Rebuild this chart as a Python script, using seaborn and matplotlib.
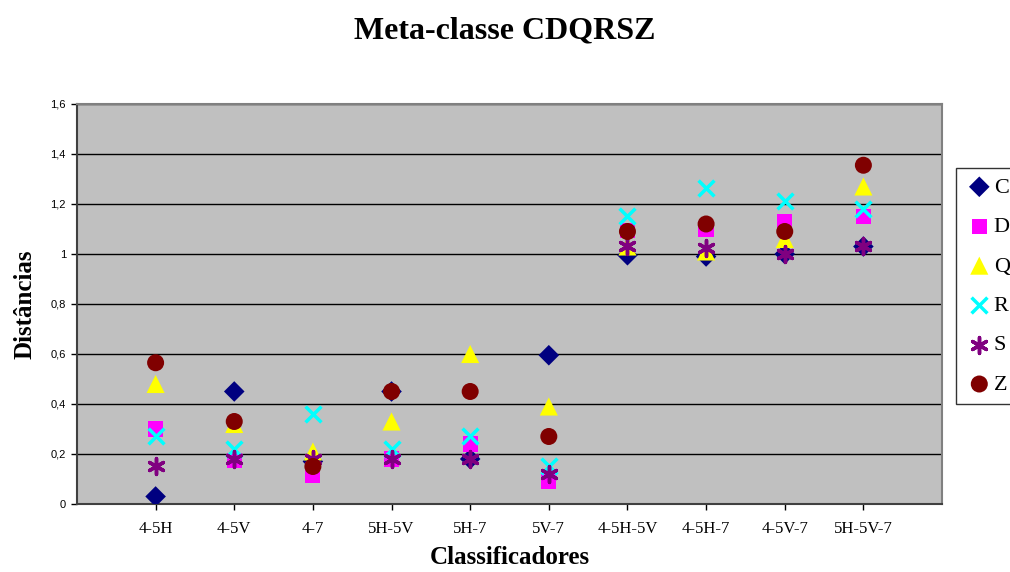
import pandas as pd
import numpy as np
import seaborn as sns
import matplotlib.pyplot as plt

# Classificadores (eixo x)
CLASSIFICADORES = ["4-5H", "4-5V", "4-7", "5H-5V", "5H-7", "5V-7",
                   "4-5H-5V", "4-5H-7", "4-5V-7", "5H-5V-7"]

# Distancias por meta-classe
C = [0.03, 0.45, 0.17, 0.45, 0.18, 0.595, 0.995, 0.99, 1.00, 1.03]
D = [0.30, 0.175, 0.115, 0.18, 0.24, 0.09, 1.095, 1.10, 1.13, 1.15]
Q = [0.48, 0.32, 0.21, 0.33, 0.60, 0.39, 1.03, 1.01, 1.06, 1.27]
R = [0.27, 0.22, 0.36, 0.22, 0.27, 0.15, 1.15, 1.265, 1.21, 1.18]
S = [0.15, 0.18, 0.18, 0.18, 0.18, 0.12, 1.03, 1.025, 1.00, 1.03]
Z = [0.565, 0.33, 0.15, 0.45, 0.45, 0.27, 1.09, 1.12, 1.09, 1.355]

SERIES = {"C": C, "D": D, "Q": Q, "R": R, "S": S, "Z": Z}

# estilo de cada serie: (marker, cor, tamanho, largura da linha)
STYLE = {
    "C": ("D", "#000080", 110, 0),
    "D": ("s", "#FF00FF", 120, 0),
    "Q": ("^", "#FFFF00", 170, 0),
    "R": ("x", "#00FFFF", 130, 2.5),
    "S": ((6, 2, 0), "#800080", 130, 2.5),
    "Z": ("o", "#800000", 150, 0),
}

rows = []
for name, vals in SERIES.items():
    for cls, v in zip(CLASSIFICADORES, vals):
        rows.append({"Classificador": cls, "Distancia": v, "Serie": name})
df = pd.DataFrame(rows)

sns.set_style("white")
plt.rcParams["font.family"] = ["Liberation Serif", "DejaVu Serif"]
plt.rcParams["text.color"] = "black"
plt.rcParams["axes.labelcolor"] = "black"
plt.rcParams["xtick.color"] = "black"
plt.rcParams["ytick.color"] = "black"

fig = plt.figure(figsize=(10.1, 5.72), dpi=100)
ax = fig.add_axes([0.0762, 0.1189, 0.8565, 0.6993])
ax.set_facecolor("#C0C0C0")

for name in SERIES:
    marker, color, size, lw = STYLE[name]
    sub = df[df["Serie"] == name]
    if lw > 0:
        sns.scatterplot(data=sub, x="Classificador", y="Distancia", ax=ax,
                        marker=marker, color=color, s=size, linewidth=lw,
                        label=name, zorder=3)
    else:
        sns.scatterplot(data=sub, x="Classificador", y="Distancia", ax=ax,
                        marker=marker, color=color, s=size, edgecolor="none",
                        label=name, zorder=3)

# um espaco vazio de uma categoria em cada lado, como no original
ax.set_xlim(-1, len(CLASSIFICADORES))
ax.set_ylim(0, 1.6)
ax.set_yticks(np.arange(0, 1.61, 0.2))
ax.set_yticklabels(["0", "0,2", "0,4", "0,6", "0,8", "1", "1,2", "1,4", "1,6"],
                   family=["Liberation Sans", "DejaVu Sans"], fontsize=8)
ax.set_xticks(range(len(CLASSIFICADORES)))
ax.set_xticklabels(CLASSIFICADORES, fontsize=12)
ax.tick_params(axis="both", direction="out", length=4, width=1, color="black",
               bottom=True, left=True, pad=4)
ax.tick_params(axis="x", pad=8)
ax.yaxis.grid(True, color="black", linewidth=1)
ax.set_axisbelow(True)
for side in ["top", "right"]:
    ax.spines[side].set_color("#808080")
    ax.spines[side].set_linewidth(1.5)
for side in ["left", "bottom"]:
    ax.spines[side].set_color("#404040")
    ax.spines[side].set_linewidth(1.5)

ax.set_xlabel("Classificadores", fontsize=18, fontweight="bold", labelpad=7)
ax.set_ylabel("Distâncias", fontsize=18, fontweight="bold", labelpad=10)
fig.suptitle("Meta-classe CDQRSZ", fontsize=23, fontweight="bold", y=0.972)

leg = ax.legend(loc="upper left", bbox_to_anchor=(0.9465, 0.706),
                bbox_transform=fig.transFigure, frameon=True, fancybox=False,
                fontsize=16, handletextpad=0.0, borderpad=0.4,
                labelspacing=0.85, handlelength=1.3, borderaxespad=0)
leg.get_frame().set_edgecolor("black")
leg.get_frame().set_linewidth(1)
leg.get_frame().set_facecolor("white")

fig.savefig("out.png", dpi=100)
